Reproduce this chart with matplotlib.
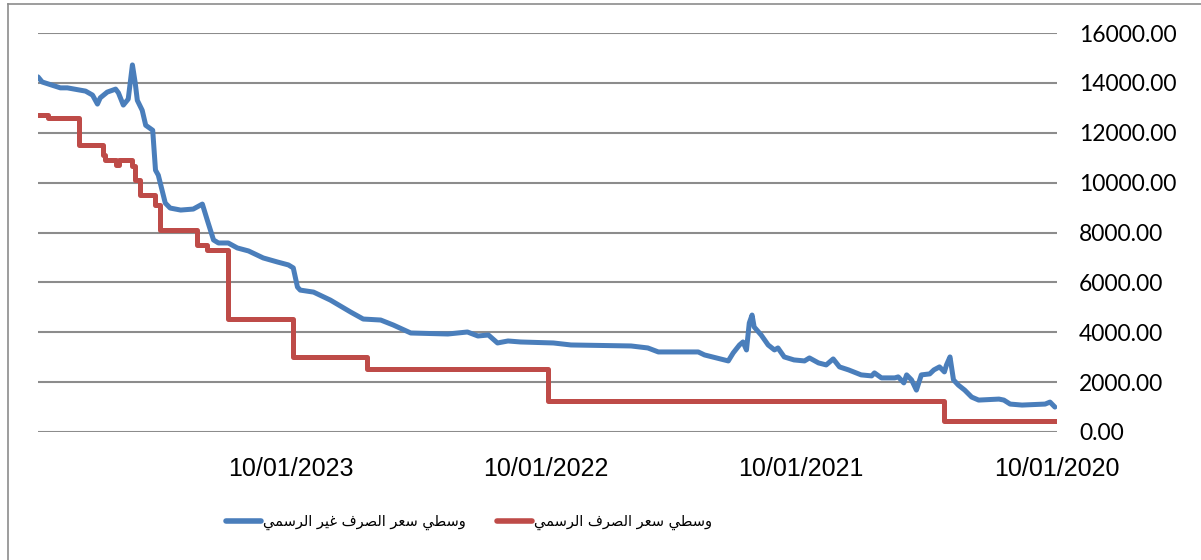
import matplotlib
matplotlib.use("Agg")
import matplotlib.pyplot as plt
from matplotlib.lines import Line2D
import pandas as pd

# ---------------- data ----------------
unofficial_dates = [
    "2020-01-13", "2020-01-20", "2020-01-27", "2020-02-29", "2020-03-17", "2020-03-26",
    "2020-04-02", "2020-05-01", "2020-05-11", "2020-05-21", "2020-05-30", "2020-06-06",
    "2020-06-11", "2020-06-16", "2020-06-19", "2020-06-26", "2020-07-04", "2020-07-10",
    "2020-07-22", "2020-07-29", "2020-08-05", "2020-08-12", "2020-08-16", "2020-08-24",
    "2020-08-29", "2020-09-17", "2020-09-27", "2020-10-01", "2020-10-16", "2020-11-03",
    "2020-11-16", "2020-11-25", "2020-12-05", "2020-12-16", "2020-12-29", "2021-01-05",
    "2021-01-20", "2021-02-03", "2021-02-12", "2021-02-17", "2021-02-26", "2021-03-08",
    "2021-03-18", "2021-03-21", "2021-03-25", "2021-03-29", "2021-04-03", "2021-04-08",
    "2021-04-17", "2021-04-24", "2021-05-28", "2021-06-06", "2021-08-02", "2021-08-17",
    "2021-09-10", "2021-12-05", "2021-12-30", "2022-02-15", "2022-03-05", "2022-03-20",
    "2022-04-02", "2022-04-17", "2022-05-02", "2022-05-30", "2022-07-22", "2022-08-16",
    "2022-09-03", "2022-09-28", "2022-10-16", "2022-11-14", "2022-12-08", "2022-12-27",
    "2022-12-31", "2023-01-06", "2023-01-13", "2023-01-29", "2023-02-18", "2023-03-11",
    "2023-03-27", "2023-04-09", "2023-04-23", "2023-04-30", "2023-05-09", "2023-05-16",
    "2023-05-29", "2023-06-16", "2023-07-01", "2023-07-08", "2023-07-18", "2023-07-22",
    "2023-07-26", "2023-08-05", "2023-08-10", "2023-08-17", "2023-08-20", "2023-08-24",
    "2023-08-30", "2023-09-06", "2023-09-13", "2023-09-17", "2023-09-29", "2023-10-09",
    "2023-10-13", "2023-10-20", "2023-10-30", "2023-11-25", "2023-12-05", "2023-12-31",
    "2024-01-06",
]
unofficial_values = [
    1000, 1200, 1120, 1080, 1120, 1280,
    1320, 1280, 1400, 1680, 1880, 2090,
    3010, 2690, 2410, 2610, 2490, 2330,
    2290, 1680, 2090, 2290, 1970, 2210,
    2170, 2170, 2370, 2250, 2290, 2490,
    2610, 2930, 2690, 2770, 2970, 2850,
    2890, 3010, 3370, 3290, 3490, 3890,
    4210, 4690, 4370, 3290, 3610, 3490,
    3170, 2850, 3090, 3210, 3210, 3370,
    3450, 3490, 3570, 3610, 3650, 3570,
    3890, 3850, 4010, 3930, 3970, 4290,
    4490, 4530, 4810, 5290, 5610, 5690,
    5810, 6580, 6700, 6820, 6980, 7260,
    7380, 7580, 7580, 7700, 8500, 9140,
    8940, 8900, 8980, 9180, 10300, 10500,
    12100, 12300, 12900, 13300, 14000, 14720,
    13350, 13110, 13600, 13750, 13630, 13400,
    13150, 13510, 13670, 13800, 13800, 14035,
    14240,
]

# official rate: step changes (date the rate took effect, rate)
official_dates = [
    "2020-01-10", "2020-06-19", "2022-01-07", "2022-09-23", "2023-01-06",
    "2023-04-09", "2023-05-09", "2023-05-23", "2023-07-15", "2023-07-22",
    "2023-08-13", "2023-08-20", "2023-08-24", "2023-09-12", "2023-09-16",
    "2023-10-02", "2023-10-05", "2023-11-08", "2023-12-22",
]
official_values = [
    435, 1256, 2512, 3015, 4522,
    7300, 7500, 8100, 9100, 9500,
    10100, 10650, 10900, 10700, 10900,
    11110, 11500, 12600, 12700,
]
official_end = "2024-01-06"

y_ticks = [0, 2000, 4000, 6000, 8000, 10000, 12000, 14000, 16000]
x_tick_dates = ["2020-01-10", "2021-01-10", "2022-01-10", "2023-01-10"]
x_range = ["2020-01-10", "2024-01-06"]

label_unofficial = "وسطي سعر الصرف غير الرسمي"
label_official = "وسطي سعر الصرف الرسمي"

# ---------------- simple Arabic shaping (presentation forms) ----------------
FORMS = {  # iso, fin, ini, med
    "ا": ("\uFE8D", "\uFE8E", None, None),
    "ر": ("\uFEAD", "\uFEAE", None, None),
    "و": ("\uFEED", "\uFEEE", None, None),
    "س": ("\uFEB1", "\uFEB2", "\uFEB3", "\uFEB4"),
    "ص": ("\uFEB9", "\uFEBA", "\uFEBB", "\uFEBC"),
    "ط": ("\uFEC1", "\uFEC2", "\uFEC3", "\uFEC4"),
    "ع": ("\uFEC9", "\uFECA", "\uFECB", "\uFECC"),
    "غ": ("\uFECD", "\uFECE", "\uFECF", "\uFED0"),
    "ف": ("\uFED1", "\uFED2", "\uFED3", "\uFED4"),
    "ل": ("\uFEDD", "\uFEDE", "\uFEDF", "\uFEE0"),
    "م": ("\uFEE1", "\uFEE2", "\uFEE3", "\uFEE4"),
    "ي": ("\uFEF1", "\uFEF2", "\uFEF3", "\uFEF4"),
}


def shape_arabic(text):
    out = []
    n = len(text)
    for i, ch in enumerate(text):
        if ch not in FORMS:
            out.append(ch)
            continue
        iso, fin, ini, med = FORMS[ch]
        prev = text[i - 1] if i > 0 else None
        nxt = text[i + 1] if i < n - 1 else None
        joins_prev = prev in FORMS and FORMS[prev][2] is not None
        joins_next = nxt in FORMS and ini is not None
        if joins_prev and joins_next:
            out.append(med)
        elif joins_prev:
            out.append(fin)
        elif joins_next:
            out.append(ini)
        else:
            out.append(iso)
    return "".join(out)[::-1]


# ---------------- figure ----------------
W, H = 1201, 560
fig = plt.figure(figsize=(W / 100, H / 100), dpi=100)
ax = fig.add_axes([38 / W, 1 - 432 / H, (1057 - 38) / W, (432 - 33) / H])

blue = "#4A7EBB"
red = "#BE4B48"

ud = pd.to_datetime(unofficial_dates)
ax.plot(ud, unofficial_values, color=blue, lw=3.6, solid_joinstyle="round",
        solid_capstyle="round", zorder=3)

od = pd.to_datetime(official_dates + [official_end])
ov = official_values + [official_values[-1]]
ax.step(od, ov, where="post", color=red, lw=3.6, solid_joinstyle="round",
        solid_capstyle="round", zorder=2)

ax.set_xlim(pd.Timestamp(x_range[1]), pd.Timestamp(x_range[0]))
ax.set_ylim(0, 16000)

ax.set_yticks(y_ticks)
ax.yaxis.tick_right()
ax.set_yticklabels([f"{v:.2f}" for v in y_ticks], fontfamily="Lato", fontsize=16.5)
ax.tick_params(axis="y", length=0, pad=16)
ax.grid(axis="y", color="#8C8C8C", lw=1.5)
ax.set_axisbelow(True)

xt = pd.to_datetime(x_tick_dates)
ax.set_xticks(xt)
ax.set_xticklabels([d.strftime("%d/%m/%Y") for d in xt], fontfamily="Liberation Sans",
                   fontsize=18)
ax.tick_params(axis="x", length=0, pad=18)

for s in ax.spines.values():
    s.set_visible(False)

# outer chart border (top and left visible in reference)
fig.add_artist(Line2D([8 / W, 8 / W], [0, 1 - 4 / H], transform=fig.transFigure,
                      color="#8C8C8C", lw=1.2))
fig.add_artist(Line2D([8 / W, 1], [1 - 4 / H, 1 - 4 / H], transform=fig.transFigure,
                      color="#8C8C8C", lw=1.2))

handles = [Line2D([], [], color=blue, lw=4, solid_capstyle="round"),
           Line2D([], [], color=red, lw=4, solid_capstyle="round")]
leg = fig.legend(handles, [shape_arabic(label_unofficial), shape_arabic(label_official)],
                 loc="center", bbox_to_anchor=(469 / W, 1 - 522 / H), ncol=2,
                 frameon=False, handlelength=2.4, handletextpad=0.15,
                 columnspacing=2.1,
                 prop={"family": "DejaVu Sans", "size": 10.5})

fig.savefig("out.png", dpi=100)
